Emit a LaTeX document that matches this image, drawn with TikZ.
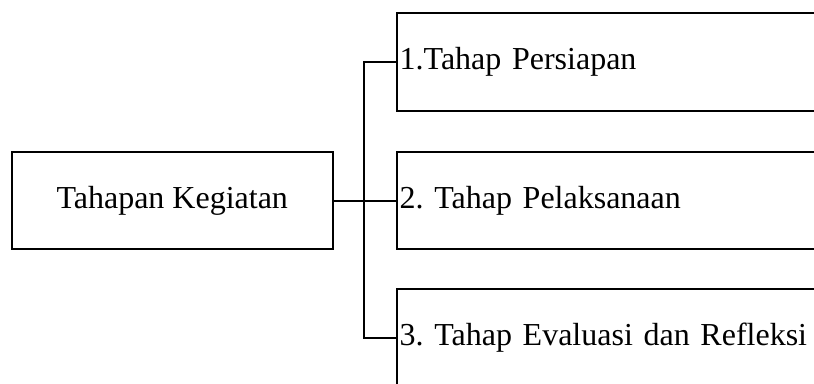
\documentclass[tikz,border=0pt]{standalone}
\usepackage{fontspec}
\setmainfont{Liberation Serif}
\usetikzlibrary{calc}

\begin{document}
\frenchspacing
\begin{tikzpicture}[%
    x=0.75pt, y=-0.75pt,
    line width=1.5pt,
    every node/.style={font=\fontsize{24}{28}\selectfont},
    kotak/.style={draw, minimum height=73pt, inner sep=0pt},
    tahap/.style={kotak, anchor=west, text width=324pt, inner xsep=2pt, align=left}
  ]
    \useasboundingbox (0,0) rectangle (814,383);
    \clip (0,0) rectangle (814,383);

    \node [kotak, anchor=west, minimum width=241.1pt] (kegiatan) at (10.5,200.5) {Tahapan Kegiatan};

    \foreach \i/\y/\t in {1/62/{1.Tahap Persiapan},
                          2/200.5/{2. Tahap Pelaksanaan},
                          3/337.5/{3. Tahap Evaluasi dan Refleksi}} {%
      \node [tahap] (tahap-\i) at (396,\y) {\t};
    };

    \draw (kegiatan.east) -- (tahap-2.west);
    \draw (tahap-1.west) -- ++(-32,0) |- (tahap-3.west);
\end{tikzpicture}
\end{document}
